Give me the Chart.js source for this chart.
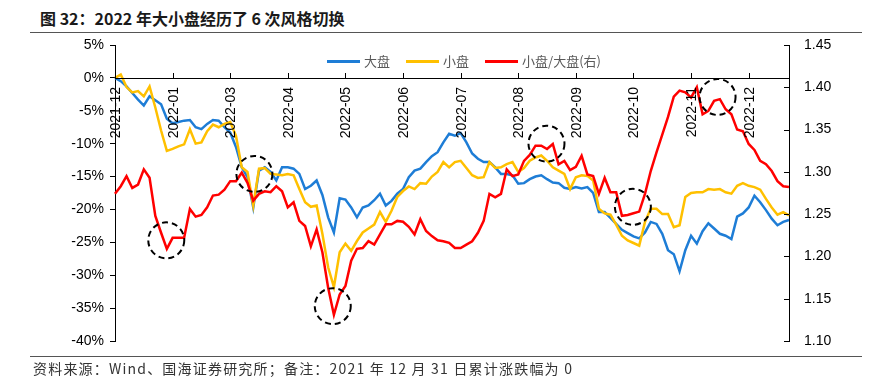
<!DOCTYPE html>
<html>
<head>
<meta charset="utf-8">
<script src="https://cdn.jsdelivr.net/npm/chart.js@4.4.0/dist/chart.umd.min.js"></script>
<style>
  html, body { margin: 0; padding: 0; background: #fff; }
  #wrap { position: relative; width: 890px; height: 386px; overflow: hidden; }
  #chart { position: absolute; left: 0; top: 0; }
  .title { position: absolute; left: 40px; top: 6px; font: bold 16px "Noto Sans CJK SC", sans-serif; color: #1a1a1a; white-space: nowrap; }
  .rule { position: absolute; left: 30px; width: 832px; border-top: 1.5px solid #555; }
  .src { position: absolute; left: 33px; top: 358px; font: 14px "Noto Sans CJK SC", sans-serif; letter-spacing: 1.2px; color: #333; white-space: nowrap; }
  .legend { position: absolute; left: 327px; top: 52px; display: flex; align-items: center; font: 13px "Noto Sans CJK SC", sans-serif; color: #595959; }
  .legend .ln { display: inline-block; width: 33px; height: 3px; margin-right: 4px; }
  .legend .tx { margin-right: 16px; line-height: 18px; }
</style>
</head>
<body>
<div id="wrap">
  <div class="title">图 32：2022 年大小盘经历了 6 次风格切换</div>
  <div class="rule" style="top:32px"></div>
  <canvas id="chart" width="890" height="386"></canvas>
  <div class="legend" id="legend"></div>
  <div class="rule" style="top:356px"></div>
  <div class="src">资料来源：Wind、国海证券研究所；备注：2021 年 12 月 31 日累计涨跌幅为 0</div>
</div>
<script>
// x tick labels, one every TICK_STEP points (points are every 2nd trading day)
const tickLabels = ['2021-12','2022-01','2022-03','2022-04','2022-05','2022-06',
                    '2022-07','2022-08','2022-09','2022-10','2022-11','2022-12'];
const TICK_STEP = 10;

// 大盘 cumulative change, %
const largeCap = [
  0,-0.5,-1.3,-2.3,-3.3,-4.2,-2.8,-3.4,-4.0,-6.2,
  -6.9,-6.7,-6.5,-6.4,-7.5,-7.8,-7.0,-6.4,-6.5,-7.5,
  -8.3,-10.5,-13.6,-15.1,-19.7,-14.1,-13.6,-14.3,-15.6,-13.6,
  -13.6,-13.8,-14.6,-16.9,-16.4,-15.6,-17.8,-21.2,-23.5,-18.3,
  -18.5,-19.7,-21.2,-19.7,-19.4,-18.6,-17.6,-19.4,-18.7,-17.6,
  -16.9,-15.1,-14.1,-13.8,-12.8,-11.9,-11.3,-9.8,-8.5,-8.8,
  -8.4,-9.8,-11.5,-12.3,-12.8,-12.8,-13.6,-14.6,-14.6,-14.8,
  -16.1,-16.0,-15.4,-15.0,-14.8,-15.4,-15.9,-16.0,-16.7,-16.9,
  -16.6,-16.8,-16.6,-17.5,-20.4,-20.4,-21.3,-22.2,-23.1,-23.6,
  -24.1,-24.4,-23.5,-21.9,-22.2,-23.7,-26.2,-26.8,-29.4,-26.2,
  -24.0,-25.2,-23.3,-22.1,-22.9,-23.7,-24.0,-24.5,-21.1,-20.6,
  -19.7,-17.9,-18.9,-20.1,-21.4,-22.4,-21.9,-21.6
];

// 小盘 cumulative change, %
const smallCap = [
  0,0.5,-1.4,-2.2,-2.0,-2.8,-1.3,-4.5,-8.0,-11.1,
  -10.8,-10.4,-10.1,-7.8,-10.0,-9.8,-8.1,-7.1,-7.5,-7.0,
  -6.7,-8.8,-13.6,-14.3,-19.4,-13.8,-13.7,-14.6,-14.7,-14.8,
  -14.6,-14.8,-16.9,-18.9,-19.6,-19.4,-23.7,-28.8,-31.8,-26.5,
  -25.2,-26.3,-24.8,-23.5,-22.9,-22.3,-20.4,-21.9,-20.2,-18.1,
  -17.2,-16.5,-16.9,-16.0,-16.1,-15.0,-14.3,-12.8,-13.6,-12.8,
  -12.6,-13.7,-14.8,-15.2,-15.1,-12.8,-13.7,-13.6,-13.1,-12.8,
  -14.3,-13.7,-12.6,-12.1,-11.8,-12.6,-13.6,-14.1,-14.6,-16.9,
  -15.1,-14.8,-14.9,-15.6,-19.9,-20.6,-20.8,-22.3,-24.0,-24.7,
  -25.1,-25.5,-21.9,-19.9,-19.9,-20.7,-20.7,-22.7,-22.4,-18.1,
  -17.5,-17.4,-17.4,-16.9,-17.0,-16.9,-17.4,-17.6,-16.4,-16.0,
  -16.4,-16.6,-17.0,-18.4,-19.7,-20.8,-20.4,-20.9
];

// 小盘/大盘, right axis
const ratio = [
  1.274,1.283,1.295,1.281,1.285,1.303,1.293,1.248,1.228,1.209,
  1.222,1.222,1.222,1.256,1.247,1.249,1.258,1.272,1.273,1.279,
  1.289,1.289,1.299,1.287,1.266,1.274,1.277,1.276,1.283,1.277,
  1.258,1.264,1.242,1.236,1.212,1.232,1.205,1.163,1.131,1.155,
  1.165,1.195,1.209,1.210,1.218,1.214,1.226,1.238,1.238,1.242,
  1.241,1.235,1.226,1.244,1.230,1.224,1.219,1.218,1.216,1.210,
  1.210,1.214,1.218,1.228,1.242,1.274,1.270,1.274,1.303,1.295,
  1.297,1.313,1.320,1.331,1.331,1.327,1.333,1.309,1.313,1.302,
  1.306,1.319,1.297,1.295,1.274,1.293,1.276,1.276,1.248,1.249,
  1.251,1.253,1.274,1.301,1.323,1.344,1.365,1.389,1.396,1.394,
  1.388,1.400,1.368,1.372,1.384,1.386,1.374,1.368,1.350,1.348,
  1.333,1.326,1.313,1.309,1.301,1.289,1.283,1.282
];

// dashed circles marking the 6 switches: [point index, left-axis %]
const switchMarks = [[8.9,-24.7],[24.2,-14.6],[37.8,-34.7],[74.9,-10.0],[89.9,-19.6],[104.6,-2.9]];
const MARK_R = 18;

const series = [
  { label: '大盘', data: largeCap, color: '#1E7DD6', axis: 'y', order: 2 },
  { label: '小盘', data: smallCap, color: '#FFC000', axis: 'y', order: 1 },
  { label: '小盘/大盘(右)', data: ratio, color: '#FF0000', axis: 'y2', order: 0 }
];

const labels = largeCap.map((_, i) => i % TICK_STEP === 0 ? tickLabels[i / TICK_STEP] : '');

document.getElementById('legend').innerHTML = series.map(s =>
  `<span class="ln" style="background:${s.color}"></span><span class="tx">${s.label}</span>`).join('');

const AXIS_FONT = '14px "Liberation Sans", Arial, sans-serif';

const axisPlugin = {
  id: 'axisExtras',
  afterDatasetsDraw(chart) {
    const { ctx, chartArea, scales } = chart;
    const xs = scales.x, yl = scales.y, yr = scales.y2;
    const y0 = yl.getPixelForValue(0);
    ctx.save();
    // category axis sitting on the 0% line
    ctx.strokeStyle = '#000';
    ctx.lineWidth = 1;
    ctx.beginPath();
    ctx.moveTo(chartArea.left, Math.round(y0) + 0.5);
    ctx.lineTo(chartArea.right, Math.round(y0) + 0.5);
    ctx.stroke();
    ctx.font = AXIS_FONT;
    ctx.fillStyle = '#000';
    tickLabels.forEach((t, k) => {
      const x = Math.round(xs.getPixelForValue(k * TICK_STEP)) + 0.5;
      ctx.beginPath();
      ctx.moveTo(x, Math.round(y0));
      ctx.lineTo(x, Math.round(y0) - 5);
      ctx.stroke();
      ctx.save();
      ctx.translate(x + 1, y0 + 9);
      ctx.rotate(-Math.PI / 2);
      ctx.textAlign = 'right';
      ctx.textBaseline = 'middle';
      ctx.fillText(t, 0, 0);
      ctx.restore();
    });
    // right axis ticks point inward
    yr.ticks.forEach(t => {
      const y = Math.round(yr.getPixelForValue(t.value)) + 0.5;
      ctx.beginPath();
      ctx.moveTo(chartArea.right, y);
      ctx.lineTo(chartArea.right - 5, y);
      ctx.stroke();
    });
    // dashed circles
    ctx.setLineDash([6, 4]);
    ctx.lineWidth = 2;
    switchMarks.forEach(([i, v]) => {
      ctx.beginPath();
      ctx.arc(xs.getPixelForValue(i), yl.getPixelForValue(v), MARK_R, 0, Math.PI * 2);
      ctx.stroke();
    });
    ctx.restore();
  }
};

new Chart(document.getElementById('chart'), {
  type: 'line',
  data: {
    labels,
    datasets: series.map(s => ({
      label: s.label, data: s.data, yAxisID: s.axis, order: s.order,
      borderColor: s.color, backgroundColor: s.color,
      borderWidth: 2.5, pointRadius: 0, tension: 0, fill: false
    }))
  },
  options: {
    responsive: false, animation: false, devicePixelRatio: 1,
    layout: { padding: { top: 45, bottom: 45, left: 0, right: 0 } },
    plugins: { legend: { display: false }, tooltip: { enabled: false } },
    scales: {
      x: { type: 'category', display: false },
      y: {
        position: 'left', min: -40, max: 5,
        ticks: { stepSize: 5, callback: v => v + '%', color: '#000', padding: 6,
                 font: { family: '"Liberation Sans", Arial, sans-serif', size: 14 } },
        grid: { drawOnChartArea: false, tickLength: 5, color: '#000' },
        border: { color: '#000', width: 1 },
        afterFit(s) { s.width = 115; }
      },
      y2: {
        position: 'right', min: 1.10, max: 1.45,
        ticks: { stepSize: 0.05, callback: v => v.toFixed(2), color: '#000', padding: 15,
                 font: { family: '"Liberation Sans", Arial, sans-serif', size: 14 } },
        grid: { display: false, drawTicks: false },
        border: { color: '#000', width: 1 },
        afterFit(s) { s.width = 101; }
      }
    }
  },
  plugins: [axisPlugin]
});
</script>
</body>
</html>
